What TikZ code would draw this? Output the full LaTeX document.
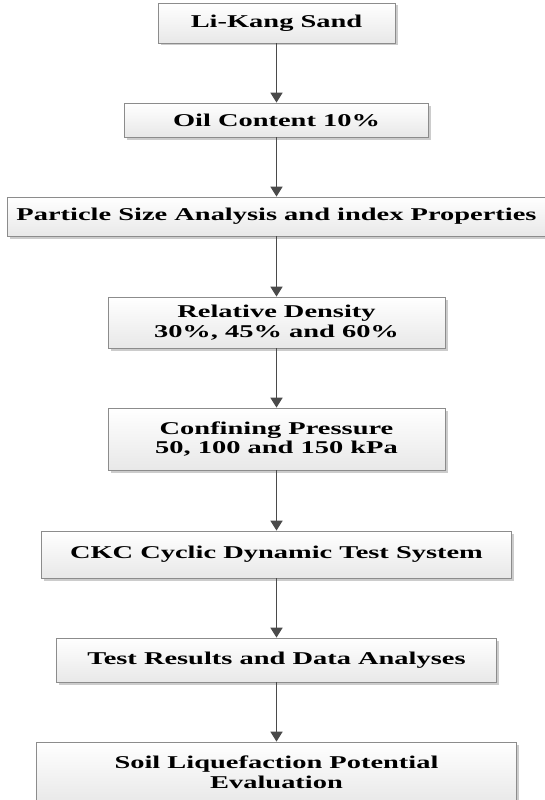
\documentclass[tikz,border=0pt]{standalone}
\usepackage{fontspec}
\setmainfont{Liberation Serif}[FakeStretch=1.58]
\usetikzlibrary{arrows.meta,shadows}
\definecolor{arrowgray}{HTML}{4A4A4A}
\definecolor{edgegray}{HTML}{8C8C8C}
\begin{document}
\begin{tikzpicture}[x=1pt,y=-1pt,
  flowbox/.style={draw=edgegray, line width=0.8pt, top color=white, bottom color=black!9,
    drop shadow={shadow xshift=2.5pt, shadow yshift=-2.5pt, fill=black!40, opacity=0.5},
    align=center, inner sep=0pt, font=\fontsize{18}{19.5}\selectfont\bfseries},
  flow/.style={draw=arrowgray, line width=1.8pt, -{Triangle[width=12pt,length=10pt]}}]
\useasboundingbox (0,0) rectangle (544,800);
% process boxes, top to bottom
\node[flowbox, minimum width=237pt, minimum height=40pt] (sand)   at (276.5,23)    {Li-Kang Sand};
\node[flowbox, minimum width=304pt, minimum height=34pt] (oil)    at (276.5,120)   {Oil Content 10\%};
\node[flowbox, minimum width=539pt, minimum height=39pt] (psa)    at (276.5,216.5) {Particle Size Analysis and index Properties};
\node[flowbox, minimum width=337pt, minimum height=51pt] (dens)   at (276.5,322.5) {Relative Density\\30\%, 45\% and 60\%};
\node[flowbox, minimum width=337pt, minimum height=62pt] (press)  at (276.5,439)   {Confining Pressure\\50, 100 and 150 kPa};
\node[flowbox, minimum width=470pt, minimum height=47pt] (ckc)    at (276.5,554.5) {CKC Cyclic Dynamic Test System};
\node[flowbox, minimum width=440pt, minimum height=44pt] (res)    at (276.5,660)   {Test Results and Data Analyses};
\node[flowbox, minimum width=480pt, minimum height=61pt] (liq)    at (276.5,772.5) {Soil Liquefaction Potential\\Evaluation};
% connecting arrows
\draw[flow] (sand) -- (oil);
\draw[flow] (oil) -- (psa);
\draw[flow] (psa) -- (dens);
\draw[flow] (dens) -- (press);
\draw[flow] (press) -- (ckc);
\draw[flow] (ckc) -- (res);
\draw[flow] (res) -- (liq);
\end{tikzpicture}
\end{document}
